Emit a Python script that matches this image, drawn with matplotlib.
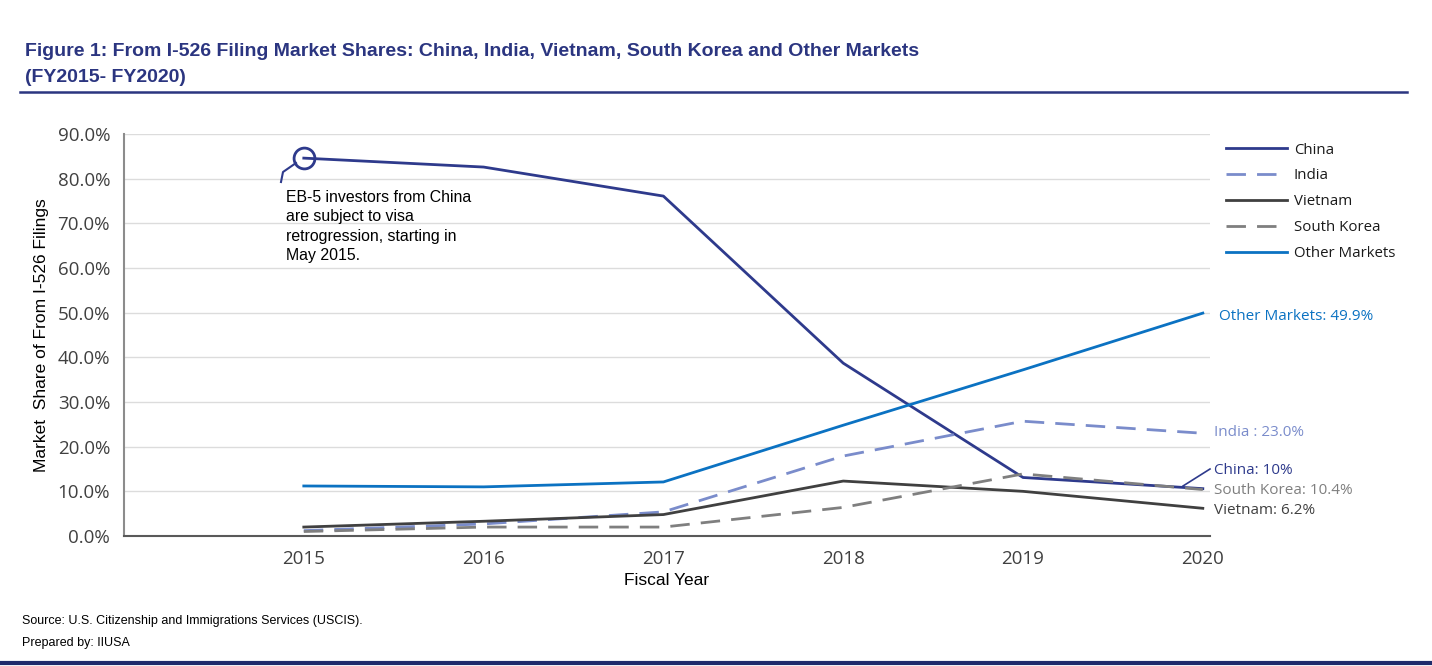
import matplotlib.pyplot as plt
from matplotlib.lines import Line2D
from matplotlib.ticker import FuncFormatter

# data
years = [2015, 2016, 2017, 2018, 2019, 2020]
china = [84.6, 82.6, 76.1, 38.7, 13.1, 10.6]
india = [1.2, 2.7, 5.4, 17.9, 25.7, 23.0]
vietnam = [2.0, 3.3, 4.8, 12.3, 10.0, 6.2]
south_korea = [1.0, 2.0, 2.0, 6.4, 13.9, 10.4]
other = [11.2, 11.0, 12.1, 24.8, 37.2, 49.9]

yticks = [0, 10, 20, 30, 40, 50, 60, 70, 80, 90]

NAVY = '#2E3A8C'
INDIA_C = '#7A8CCB'
VIET_C = '#404040'
SK_C = '#7F7F7F'
OTHER_C = '#0B72C2'
TITLE_C = '#2B3580'

W, H = 1432, 666
fig = plt.figure(figsize=(W / 100, H / 100), dpi=100)

def fx(px):
    return px / W

def fy(py):
    return 1 - py / H

ax = fig.add_axes([fx(124), fy(536), fx(1210) - fx(124), fy(134) - fy(536)])

ax.plot(years, china, color=NAVY, lw=2.0, label='China')
ax.plot(years, india, color=INDIA_C, lw=2.0, ls=(0, (7, 4)), label='India')
ax.plot(years, vietnam, color=VIET_C, lw=2.0, label='Vietnam')
ax.plot(years, south_korea, color=SK_C, lw=2.0, ls=(0, (7, 4)), label='South Korea')
ax.plot(years, other, color=OTHER_C, lw=2.0, label='Other Markets')

ax.set_xlim(2014, 2020.04)
ax.set_ylim(0, 90)
ax.set_yticks(yticks)
ax.yaxis.set_major_formatter(FuncFormatter(lambda v, p: '{:.1f}%'.format(v)))
ax.set_xticks(years)
ax.tick_params(length=0, labelsize=13.5, labelcolor='#404040', pad=10)
for lab in ax.get_xticklabels() + ax.get_yticklabels():
    lab.set_family('Open Sans')
ax.grid(axis='y', color='#DCDCDC', lw=1.0)
ax.set_axisbelow(True)
for s in ['top', 'right']:
    ax.spines[s].set_visible(False)
ax.spines['left'].set_color('#8C8C8C')
ax.spines['left'].set_linewidth(1.5)
ax.spines['bottom'].set_color('#595959')
ax.spines['bottom'].set_linewidth(1.5)

ax.set_xlabel('Fiscal Year', family='Liberation Sans', fontsize=12.5, labelpad=4)
ax.set_ylabel('Market  Share of From I-526 Filings', family='Liberation Sans',
              fontsize=12.5, labelpad=6)

# annotation for China 2015
ax.plot([years[0]], [china[0]], marker='o', ms=15, mfc='none', mec=NAVY, mew=2)
fig.add_artist(Line2D([fx(281), fx(283), fx(296)], [fy(182), fy(172), fy(163)],
                      color=NAVY, lw=1.5))
fig.text(fx(286), fy(190), 'EB-5 investors from China\nare subject to visa\n'
         'retrogression, starting in\nMay 2015.', family='Liberation Sans',
         fontsize=11.4, va='top', ha='left', linespacing=1.37)

# end labels
lab_kw = dict(family='Open Sans', fontsize=11, va='center', ha='left')
fig.text(fx(1219), fy(317), 'Other Markets: {:.1f}%'.format(other[-1]), color=OTHER_C, **lab_kw)
fig.text(fx(1214), fy(432), 'India : {:.1f}%'.format(india[-1]), color=INDIA_C, **lab_kw)
fig.text(fx(1214), fy(470), 'China: 10%', color=NAVY, **lab_kw)
fig.text(fx(1214), fy(490), 'South Korea: {:.1f}%'.format(south_korea[-1]), color=SK_C, **lab_kw)
fig.text(fx(1214), fy(511), 'Vietnam: {:.1f}%'.format(vietnam[-1]), color=VIET_C, **lab_kw)
fig.add_artist(Line2D([fx(1183), fx(1210)], [fy(486), fy(469)], color=NAVY, lw=1.2))

# legend
leg = ax.legend(loc='upper left', bbox_to_anchor=(fx(1212), fy(129)),
                bbox_transform=fig.transFigure, frameon=False, handlelength=4.1,
                handletextpad=0.45, labelspacing=0.73, prop={'family': 'Open Sans', 'size': 10.8})
for t in leg.get_texts():
    t.set_color('#1A1A1A')

# title and frame lines
title_kw = dict(family='Liberation Sans', fontweight='bold', fontsize=14,
                color=TITLE_C, va='center', ha='left')
fig.text(fx(25), fy(52), 'Figure 1: From I-526 Filing Market Shares: China, India, Vietnam, '
         'South Korea and Other Markets', **title_kw)
fig.text(fx(25), fy(78), '(FY2015- FY2020)', **title_kw)
fig.add_artist(Line2D([fx(20), fx(1407)], [fy(92), fy(92)], color=TITLE_C, lw=1.8))
fig.add_artist(Line2D([0, 1], [fy(663), fy(663)], color='#1F2A6B', lw=3))

fig.text(fx(22), fy(621), 'Source: U.S. Citizenship and Immigrations Services (USCIS).',
         family='Liberation Sans', fontsize=9, va='center')
fig.text(fx(22), fy(643), 'Prepared by: IIUSA', family='Liberation Sans', fontsize=9, va='center')

fig.savefig('out.png', dpi=100)
